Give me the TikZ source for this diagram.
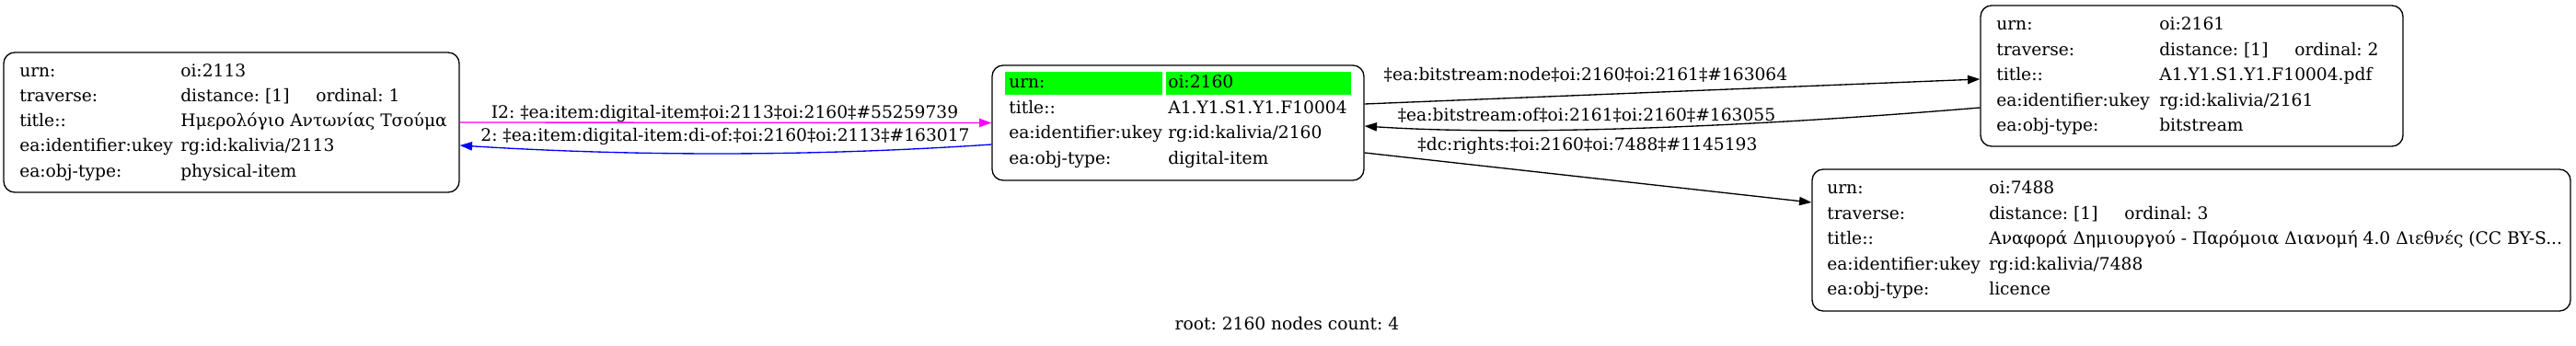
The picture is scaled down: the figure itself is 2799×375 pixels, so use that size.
\documentclass[tikz,border=0pt]{standalone}
\usepackage{fontspec}
\setmainfont{DejaVu Serif}
\usetikzlibrary{arrows.meta,calc,fit}
\definecolor{hl}{RGB}{0,255,0}
\definecolor{mg}{RGB}{255,0,255}
\definecolor{bl}{RGB}{0,0,255}
\begin{document}
\frenchspacing
\begin{tikzpicture}[x=0.75pt,y=-0.75pt,
  box/.style={draw=black, line width=1pt, rounded corners=9pt, inner sep=0pt},
  cell/.style={fill=hl, draw=none, inner sep=0pt},
  txt/.style={anchor=base west, inner sep=0pt, font=\fontsize{14pt}{16pt}\selectfont},
  lbl/.style={anchor=base, inner sep=0pt, font=\fontsize{14pt}{16pt}\selectfont},
  link/.style={line width=1pt, -{Triangle[length=10pt,width=7pt]}},
]
\useasboundingbox (0,0) rectangle (2799,375);

% ---------- node oi:2113 ----------
\node[box, fit={(4,57) (499,209)}] (n2113) {};
\node[txt] (a1) at (21,83) {urn:};
\node[txt] (a2) at (196,83) {oi:2113};
\node[txt] (a3) at (21,110.5) {traverse:};
\node[txt] (a4) at (196,110.5) {distance: [1]};
\node[txt] (a5) at (343,110.5) {ordinal: 1};
\node[txt] (a6) at (21,137.5) {title::};
\node[txt] (a7) at (196,137.5) {Ημερολόγιο Αντωνίας Τσούμα};
\node[txt] (a8) at (21,164.5) {ea:identifier:ukey};
\node[txt] (a9) at (196,164.5) {rg:id:kalivia/2113};
\node[txt] (a10) at (21,192) {ea:obj-type:};
\node[txt] (a11) at (196,192) {physical-item};

% ---------- node oi:2160 (root) ----------
\node[box, fit={(1078,71) (1482,196)}] (n2160) {};
\node[cell, fit={(1092,78) (1263,103)}] (g1) {};
\node[cell, fit={(1267,78) (1468,103)}] (g2) {};
\node[txt] (b1) at (1096,95.5) {urn:};
\node[txt] (b2) at (1269,95.5) {oi:2160};
\node[txt] (b3) at (1096,123) {title::};
\node[txt] (b4) at (1269,123) {A1.Y1.S1.Y1.F10004};
\node[txt] (b5) at (1096,150.5) {ea:identifier:ukey};
\node[txt] (b6) at (1269,150.5) {rg:id:kalivia/2160};
\node[txt] (b7) at (1096,178) {ea:obj-type:};
\node[txt] (b8) at (1269,178) {digital-item};

% ---------- node oi:2161 ----------
\node[box, fit={(2152,6) (2611,159)}] (n2161) {};
\node[txt] (c1) at (2169,32) {urn:};
\node[txt] (c2) at (2346,32) {oi:2161};
\node[txt] (c3) at (2169,60) {traverse:};
\node[txt] (c4) at (2346,60) {distance: [1]};
\node[txt] (c5) at (2493,60) {ordinal: 2};
\node[txt] (c6) at (2169,87.5) {title::};
\node[txt] (c7) at (2346,87.5) {A1.Y1.S1.Y1.F10004.pdf};
\node[txt] (c8) at (2169,115) {ea:identifier:ukey};
\node[txt] (c9) at (2346,115) {rg:id:kalivia/2161};
\node[txt] (c10) at (2169,142.5) {ea:obj-type:};
\node[txt] (c11) at (2346,142.5) {bitstream};

% ---------- node oi:7488 ----------
\node[box, fit={(1969,184) (2793,338)}] (n7488) {};
\node[txt] (d1) at (1985,210.5) {urn:};
\node[txt] (d2) at (2161,210.5) {oi:7488};
\node[txt] (d3) at (1985,238) {traverse:};
\node[txt] (d4) at (2161,238) {distance: [1]};
\node[txt] (d5) at (2308,238) {ordinal: 3};
\node[txt] (d6) at (1985,265.5) {title::};
\node[txt] (d7) at (2161,265.5) {Αναφορά Δημιουργού - Παρόμοια Διανομή 4.0 Διεθνές (CC BY-S...};
\node[txt] (d8) at (1985,293) {ea:identifier:ukey};
\node[txt] (d9) at (2161,293) {rg:id:kalivia/7488};
\node[txt] (d10) at (1985,320.5) {ea:obj-type:};
\node[txt] (d11) at (2161,320.5) {licence};

% ---------- connectors ----------
\draw[link, mg] (n2113.east) -- (n2160.west);
\node[lbl] (l1) at (787.5,128) {I2: ‡ea:item:digital-item‡oi:2113‡oi:2160‡\#55259739};

\draw[link, bl] ($(n2160.west)+(0,23.5)$) .. controls (885,170) and (692,170) .. ($(n2113.east)+(0,25)$);
\node[lbl] (l2) at (788,153) {2: ‡ea:item:digital-item:di-of:‡oi:2160‡oi:2113‡\#163017};

\draw[link] ($(n2160.east)+(0,-20.5)$) -- ($(n2161.west)+(0,3.5)$);
\node[lbl] (l3) at (1723,87) {‡ea:bitstream:node‡oi:2160‡oi:2161‡\#163064};

\draw[link] ($(n2161.west)+(0,34.5)$) .. controls (1900,138) and (1650,148) .. ($(n2160.east)+(0,3.5)$);
\node[lbl] (l4) at (1724,131) {‡ea:bitstream:of‡oi:2161‡oi:2160‡\#163055};

\draw[link] ($(n2160.east)+(0,32.5)$) -- ($(n7488.west)+(0,-41)$);
\node[lbl] (l5) at (1725,163) {‡dc:rights:‡oi:2160‡oi:7488‡\#1145193};

% ---------- caption ----------
\node[lbl] (cap) at (1398.5,358) {root: 2160 nodes count: 4};
\end{tikzpicture}
\end{document}
